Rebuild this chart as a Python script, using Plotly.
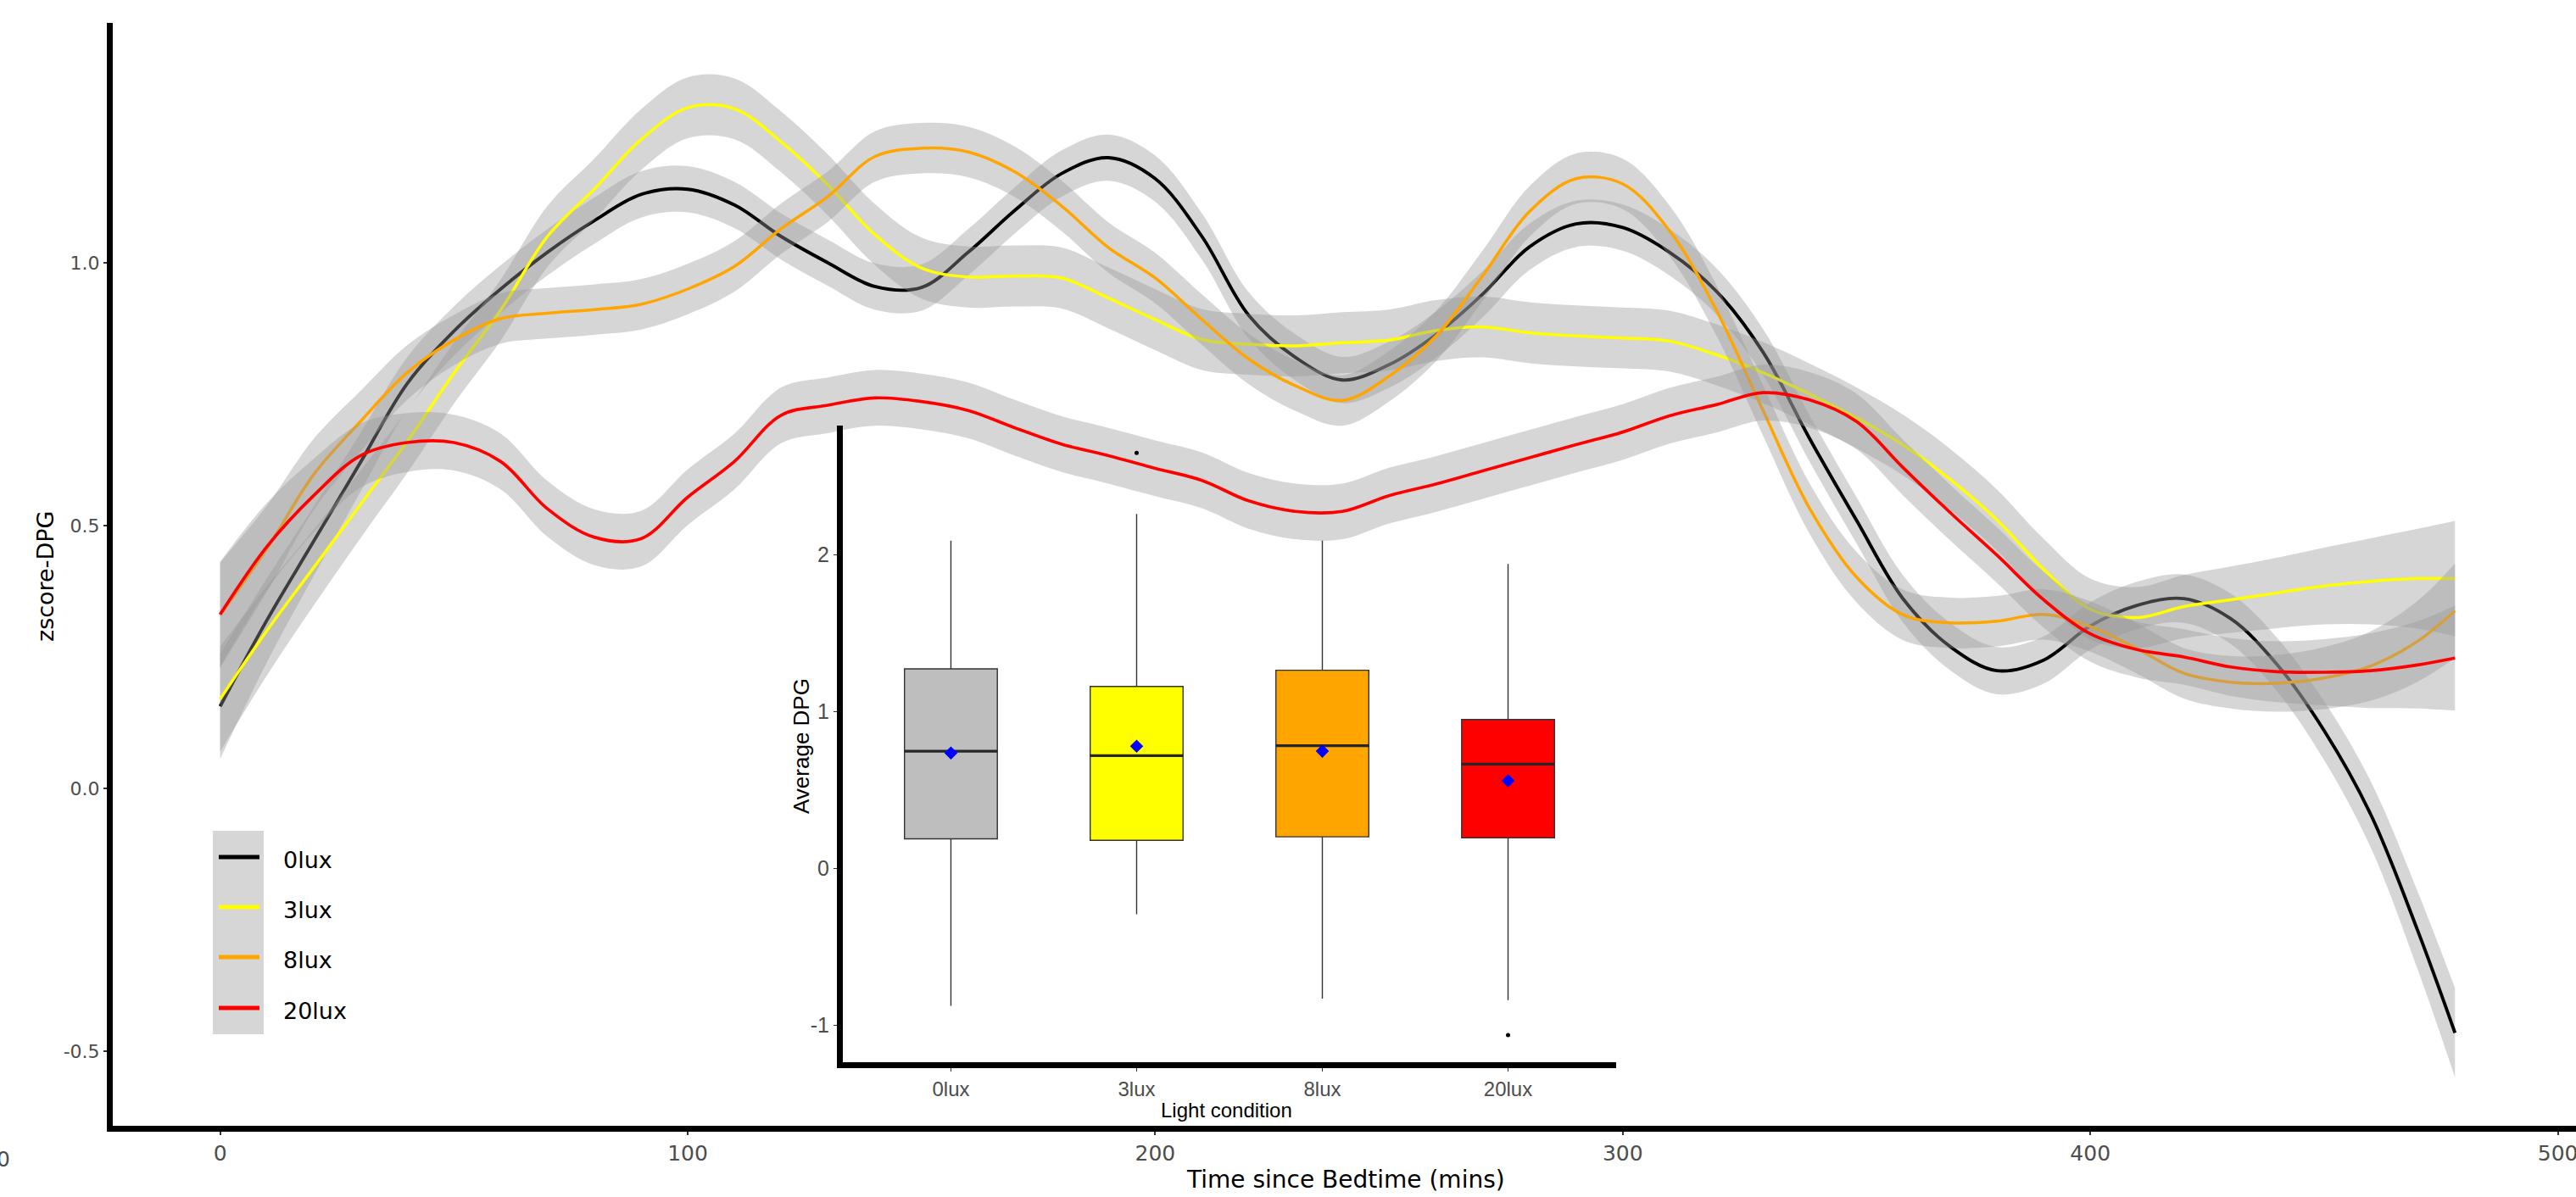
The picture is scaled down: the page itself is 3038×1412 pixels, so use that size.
import plotly.graph_objects as go

# ---------------- data ----------------
time_min = [0, 10, 20, 30, 40, 50, 60, 70, 80, 90, 100, 110, 120, 130, 140, 150, 160, 170,
            180, 190, 200, 210, 220, 230, 240, 250, 260, 270, 280, 290, 300, 310, 320, 330,
            340, 350, 360, 370, 380, 390, 400, 410, 420, 430, 440, 450, 460, 470, 478]

lux0 = [0.156, 0.32, 0.47, 0.62, 0.77, 0.87, 0.95, 1.02, 1.08, 1.13, 1.14, 1.11, 1.05, 1.00,
        0.955, 0.953, 1.02, 1.10, 1.17, 1.20, 1.16, 1.05, 0.90, 0.82, 0.777, 0.806, 0.863,
        0.94, 1.03, 1.074, 1.067, 1.02, 0.946, 0.83, 0.665, 0.51, 0.36, 0.27, 0.224, 0.244,
        0.309, 0.348, 0.361, 0.323, 0.235, 0.11, -0.05, -0.27, -0.465]
lux3 = [0.17, 0.30, 0.42, 0.54, 0.66, 0.79, 0.91, 1.05, 1.14, 1.234, 1.295, 1.293, 1.23, 1.148,
        1.054, 0.99, 0.973, 0.975, 0.971, 0.933, 0.892, 0.854, 0.845, 0.842, 0.848, 0.853,
        0.871, 0.878, 0.867, 0.861, 0.857, 0.851, 0.825, 0.791, 0.75, 0.705, 0.653, 0.588,
        0.511, 0.417, 0.341, 0.325, 0.346, 0.359, 0.372, 0.385, 0.394, 0.399, 0.399]
lux8 = [0.33, 0.456, 0.597, 0.698, 0.791, 0.853, 0.894, 0.904, 0.911, 0.921, 0.95, 0.993, 1.065,
        1.126, 1.202, 1.218, 1.211, 1.173, 1.108, 1.029, 0.971, 0.892, 0.817, 0.766, 0.738,
        0.784, 0.86, 0.975, 1.097, 1.16, 1.15, 1.061, 0.91, 0.719, 0.532, 0.402, 0.33, 0.315,
        0.318, 0.331, 0.308, 0.266, 0.219, 0.202, 0.2, 0.21, 0.233, 0.28, 0.338]
lux20 = [0.331, 0.46, 0.557, 0.633, 0.658, 0.658, 0.622, 0.532, 0.478, 0.475, 0.554, 0.622,
         0.71, 0.729, 0.743, 0.736, 0.719, 0.686, 0.655, 0.633, 0.609, 0.586, 0.547, 0.527,
         0.527, 0.557, 0.579, 0.604, 0.629, 0.654, 0.678, 0.709, 0.73, 0.753, 0.739, 0.698,
         0.61, 0.525, 0.444, 0.359, 0.294, 0.264, 0.25, 0.231, 0.222, 0.221, 0.224, 0.235, 0.248]

# half-width of the confidence ribbons
band0 = [0.10, 0.08, 0.066, 0.056, 0.05, 0.047, 0.045, 0.044, 0.044, 0.044, 0.044, 0.044, 0.044,
         0.044, 0.044, 0.044, 0.044, 0.044, 0.044, 0.044, 0.044, 0.044, 0.044, 0.044, 0.044,
         0.044, 0.044, 0.044, 0.044, 0.044, 0.044, 0.044, 0.044, 0.044, 0.044, 0.044, 0.045,
         0.045, 0.045, 0.045, 0.045, 0.045, 0.046, 0.048, 0.051, 0.056, 0.063, 0.074, 0.085]
band3 = [0.10, 0.085, 0.072, 0.064, 0.06, 0.058, 0.058, 0.058, 0.058, 0.058, 0.058, 0.058, 0.058,
         0.058, 0.058, 0.058, 0.058, 0.058, 0.058, 0.058, 0.058, 0.058, 0.058, 0.058, 0.058,
         0.058, 0.058, 0.058, 0.058, 0.058, 0.058, 0.058, 0.058, 0.058, 0.058, 0.058, 0.058,
         0.058, 0.058, 0.058, 0.058, 0.058, 0.06, 0.063, 0.067, 0.073, 0.082, 0.095, 0.11]
band8 = [0.10, 0.082, 0.068, 0.058, 0.052, 0.048, 0.048, 0.048, 0.048, 0.048, 0.048, 0.048, 0.048,
         0.048, 0.048, 0.048, 0.048, 0.048, 0.048, 0.048, 0.048, 0.048, 0.048, 0.048, 0.048,
         0.048, 0.048, 0.048, 0.048, 0.048, 0.048, 0.048, 0.048, 0.048, 0.048, 0.048, 0.048,
         0.048, 0.048, 0.048, 0.048, 0.048, 0.048, 0.05, 0.054, 0.059, 0.066, 0.077, 0.09]
band20 = [0.10, 0.083, 0.07, 0.061, 0.056, 0.053, 0.053, 0.053, 0.053, 0.053, 0.053, 0.053, 0.053,
          0.053, 0.053, 0.053, 0.053, 0.053, 0.053, 0.053, 0.053, 0.053, 0.053, 0.053, 0.053,
          0.053, 0.053, 0.053, 0.053, 0.053, 0.053, 0.053, 0.053, 0.053, 0.053, 0.053, 0.053,
          0.053, 0.053, 0.053, 0.053, 0.053, 0.053, 0.055, 0.058, 0.063, 0.071, 0.083, 0.10]

series_names = ["0lux", "3lux", "8lux", "20lux"]
series_colors = ["#000000", "#FFFF00", "#FFA500", "#FF0000"]
series_widths = [3.9, 3.5, 3.5, 3.7]

x_ticks = [0, 100, 200, 300, 400, 500]
y_ticks = [-0.5, 0.0, 0.5, 1.0]
y_tick_text = ["-0.5", "0.0", "0.5", "1.0"]

# inset boxplot statistics
box_categories = ["0lux", "3lux", "8lux", "20lux"]
box_fill = ["#BEBEBE", "#FFFF00", "#FFA500", "#FF0000"]
box_q1 = [0.189, 0.180, 0.202, 0.196]
box_median = [0.748, 0.720, 0.783, 0.665]
box_q3 = [1.273, 1.161, 1.264, 0.950]
box_lower = [-0.876, -0.292, -0.830, -0.839]
box_upper = [2.09, 2.26, 2.09, 1.941]
box_mean = [0.736, 0.780, 0.748, 0.559]
outlier_cat = [1, 3]
outlier_val = [2.65, -1.062]
inset_y_ticks = [-1, 0, 1, 2]

# ---------------- layout geometry ----------------
W, H = 3038, 1412
L, R, T, B = 133, 0, 27, 1412 - 1328
PW, PH = W - L - R, H - T - B


def px_x(px):
    return (px - L) / PW


def px_y(py):
    return (H - B - py) / PH


RIBBON = "rgba(153,153,153,0.4)"
FONT = "DejaVu Sans"
INSET_FONT = "Liberation Sans"

fig = go.Figure()

values = [lux0, lux3, lux8, lux20]
bands = [band0, band3, band8, band20]
for name, col, lw, yv, bd in zip(series_names, series_colors, series_widths, values, bands):
    lower = [v - b for v, b in zip(yv, bd)]
    upper = [v + b for v, b in zip(yv, bd)]
    fig.add_trace(go.Scatter(x=time_min, y=lower, mode="lines",
                             line=dict(width=0, shape="spline"),
                             showlegend=False, hoverinfo="skip"))
    fig.add_trace(go.Scatter(x=time_min, y=upper, mode="lines",
                             line=dict(width=0, shape="spline"),
                             fill="tonexty", fillcolor=RIBBON,
                             showlegend=False, hoverinfo="skip"))
    fig.add_trace(go.Scatter(x=time_min, y=yv, mode="lines", name=name,
                             line=dict(color=col, width=lw, shape="spline"),
                             showlegend=False))

# ---------------- inset boxplot ----------------
BOXW = 0.5
for i, cat in enumerate(box_categories):
    fig.add_trace(go.Box(x=[i], q1=[box_q1[i]], median=[box_median[i]], q3=[box_q3[i]],
                         lowerfence=[box_lower[i]], upperfence=[box_upper[i]],
                         fillcolor=box_fill[i], line=dict(color="#333333", width=1.4),
                         whiskerwidth=0, width=BOXW, boxpoints=False, name=cat,
                         xaxis="x2", yaxis="y2", showlegend=False, hoverinfo="skip"))

med_x, med_y = [], []
for i, m in enumerate(box_median):
    med_x += [i - BOXW / 2, i + BOXW / 2, None]
    med_y += [m, m, None]
fig.add_trace(go.Scatter(x=med_x, y=med_y, mode="lines", line=dict(color="#262626", width=3.2),
                         xaxis="x2", yaxis="y2", showlegend=False, hoverinfo="skip"))
fig.add_trace(go.Scatter(x=list(range(len(box_mean))), y=box_mean, mode="markers",
                         marker=dict(symbol="diamond", size=12, color="#0000FF"),
                         xaxis="x2", yaxis="y2", showlegend=False))
fig.add_trace(go.Scatter(x=outlier_cat, y=outlier_val, mode="markers",
                         marker=dict(size=5, color="#000000"),
                         xaxis="x2", yaxis="y2", showlegend=False))

# ---------------- axes ----------------
x_lo = (L - 259.6) / 5.514
x_hi = (W - R - 259.6) / 5.514
y_lo = (930 - (H - B)) / 620
y_hi = (930 - T) / 620

fig.update_layout(
    width=W, height=H,
    margin=dict(l=L, r=R, t=T, b=B, pad=0),
    paper_bgcolor="white", plot_bgcolor="rgba(0,0,0,0)",
    font=dict(family=FONT, color="#000000"),
    showlegend=False,
    xaxis=dict(range=[x_lo, x_hi], showline=True, linewidth=7, linecolor="#000000",
               ticks="outside", ticklen=4, tickwidth=1.5, tickcolor="#333333",
               tickvals=x_ticks, ticktext=[str(v) for v in x_ticks],
               tickfont=dict(size=25, color="#4D4D4D", family=FONT),
               ticklabeloverflow="allow",
               showgrid=False, zeroline=False, automargin=False),
    yaxis=dict(range=[y_lo, y_hi], showline=True, linewidth=7, linecolor="#000000",
               ticks="outside", ticklen=4, tickwidth=1.5, tickcolor="#333333",
               tickvals=y_ticks, ticktext=y_tick_text,
               tickfont=dict(size=22, color="#4D4D4D", family=FONT),
               showgrid=False, zeroline=False, automargin=False),
    xaxis2=dict(domain=[px_x(994), px_x(1906)], anchor="y2",
                range=[-0.582, 3.582], showline=True, linewidth=7, linecolor="#000000",
                ticks="outside", ticklen=4, tickwidth=1.2, tickcolor="#333333",
                tickvals=list(range(len(box_categories))), ticktext=box_categories,
                tickfont=dict(size=24, color="#4D4D4D", family=INSET_FONT),
                showgrid=False, zeroline=False, automargin=False),
    yaxis2=dict(domain=[px_y(1253), px_y(502)], anchor="x2",
                range=[-1.235, 2.824], showline=True, linewidth=7, linecolor="#000000",
                ticks="outside", ticklen=4, tickwidth=1.2, tickcolor="#333333",
                tickvals=inset_y_ticks, ticktext=[str(v) for v in inset_y_ticks],
                tickfont=dict(size=25, color="#4D4D4D", family=INSET_FONT),
                showgrid=False, zeroline=False, automargin=False),
)

# ---------------- titles ----------------
ann = [
    dict(text="Time since Bedtime (mins)", x=px_x(1587), y=px_y(1391),
         font=dict(size=28, color="#000000", family=FONT)),
    dict(text="zscore-DPG", x=px_x(53), y=px_y(680), textangle=-90,
         font=dict(size=27, color="#000000", family=FONT)),
    dict(text="Light condition", x=px_x(1446), y=px_y(1309),
         font=dict(size=24, color="#000000", family=INSET_FONT)),
    dict(text="Average DPG", x=px_x(945), y=px_y(880), textangle=-90,
         font=dict(size=26, color="#000000", family="Liberation Sans")),
    dict(text="0", x=px_x(-6), y=px_y(1367), xanchor="left",
         font=dict(size=25, color="#4D4D4D", family=FONT)),
]

# ---------------- legend (drawn manually, ggplot style) ----------------
shapes = [dict(type="rect", xref="paper", yref="paper",
               x0=px_x(251), x1=px_x(311), y0=px_y(1220), y1=px_y(980),
               fillcolor=RIBBON, line=dict(width=0), layer="above")]
legend_y = [1011, 1070, 1129, 1189]
for name, col, ly in zip(series_names, series_colors, legend_y):
    shapes.append(dict(type="line", xref="paper", yref="paper",
                       x0=px_x(258), x1=px_x(306), y0=px_y(ly), y1=px_y(ly),
                       line=dict(color=col, width=5), layer="above"))
    ann.append(dict(text=name, x=px_x(332), y=px_y(ly + 3), xanchor="left",
                    font=dict(size=27, color="#000000", family=FONT)))

for a in ann:
    a.setdefault("xanchor", "center")
    a.update(xref="paper", yref="paper", yanchor="middle", showarrow=False)

fig.update_layout(annotations=ann, shapes=shapes)

fig.write_html("out.html")
